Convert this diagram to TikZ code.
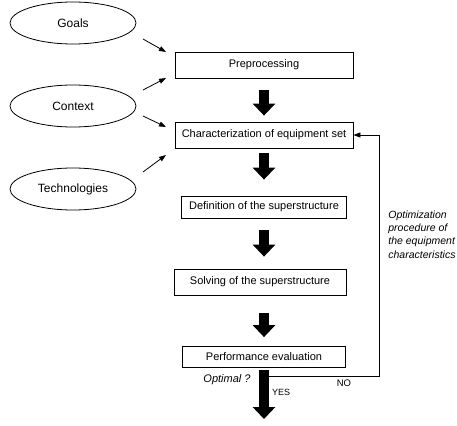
\documentclass[tikz,border=0pt]{standalone}
\usepackage{fontspec}
\setmainfont{Liberation Sans}
\usetikzlibrary{arrows.meta,shapes.geometric}
\begin{document}
\begin{tikzpicture}[x=1pt,y=-1pt,line width=0.8pt,
    input/.style={draw,ellipse,minimum width=126pt,minimum height=42pt,inner sep=0pt,font=\fontsize{12}{14}\selectfont},
    stage/.style={draw,minimum height=26pt,inner sep=0pt,font=\fontsize{11}{13}\selectfont},
    bigarrow/.style={line width=9.5pt,-{Triangle[width=22pt,length=12pt]}},
    thinarrow/.style={-{Triangle[width=5pt,length=7pt]}}]
        \useasboundingbox (0,0) rectangle (457,425);
        \node[input] (A0_0) at (73,23) {Goals};
        \node[input] (A1_0) at (73,106) {Context};
        \node[input] (A2_0) at (73,189) {Technologies};
        \node[stage,minimum width=178pt] (A0_1) at (264,65) {Preprocessing};
        \node[stage,minimum width=178pt] (A1_1) at (264,135) {Characterization of equipment set};
        \node[stage,minimum width=165pt,minimum height=22pt] (A2_1) at (264,207) {Definition of the superstructure};
        \node[stage,minimum width=172pt] (A3_1) at (260,282) {Solving of the superstructure};
        \node[stage,minimum width=163pt,minimum height=21pt] (A4_1) at (264,357) {Performance evaluation};
        \node[font=\fontsize{11}{13}\selectfont\itshape] (A5_0) at (227,380) {Optimal ?};
        \node[font=\fontsize{9}{11}\selectfont] (A5_1) at (281,392) {YES};
        \node[font=\fontsize{9.5}{11}\selectfont] (A5_2) at (344,383) {NO};
        \node[font=\fontsize{10.5}{13.4}\selectfont\itshape,align=left,anchor=north west,inner sep=0pt] (A2_2) at (388,210) {Optimization\\procedure of\\the equipment\\characteristics};
        \coordinate (B0_0) at (143,39);  \coordinate (B0_1) at (166,52);
        \coordinate (B1_0) at (143,90);  \coordinate (B1_1) at (166,78);
        \coordinate (B2_0) at (143,116); \coordinate (B2_1) at (166,127);
        \coordinate (B3_0) at (143,172); \coordinate (B3_1) at (166,155);
        \coordinate (C0) at (379,376);
        \coordinate (C1) at (264,419);
        \path (B0_0) edge [thinarrow] (B0_1);
        \path (B1_0) edge [thinarrow] (B1_1);
        \path (B2_0) edge [thinarrow] (B2_1);
        \path (B3_0) edge [thinarrow] (B3_1);
        \draw[thinarrow] (A4_1.south |- C0) -- (C0) |- (A1_1.east);
        \path (A0_1.south) edge [bigarrow,shorten <=12pt,shorten >=6pt] (A0_1.south |- A1_1.north);
        \path (A1_1.south) edge [bigarrow,shorten <=5pt,shorten >=16pt] (A1_1.south |- A2_1.north);
        \path (A2_1.south) edge [bigarrow,shorten <=12pt,shorten >=12pt] (A2_1.south |- A3_1.north);
        \path (A4_1.north |- A3_1.south) edge [bigarrow,shorten <=18pt,shorten >=9pt] (A4_1.north);
        \path (A4_1.south) edge [bigarrow,shorten <=2pt] (C1);
      \end{tikzpicture}
\end{document}
